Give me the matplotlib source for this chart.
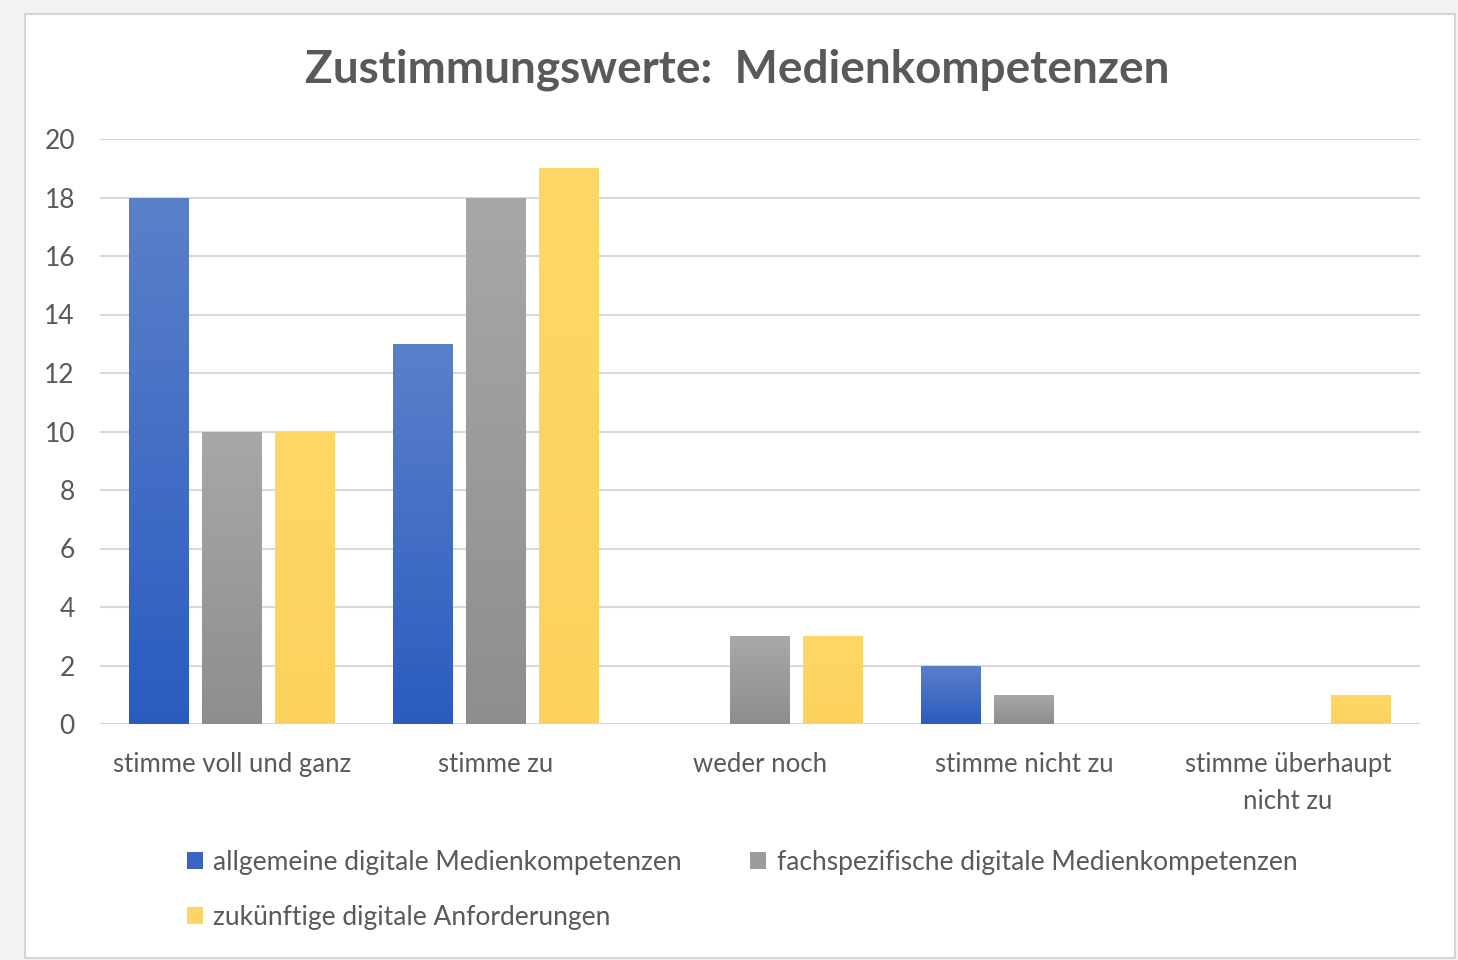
import matplotlib

matplotlib.use("Agg", force=True)
import matplotlib.pyplot as plt
import numpy as np
from matplotlib.patches import Rectangle

categories = ["stimme voll und ganz", "stimme zu", "weder noch", "stimme nicht zu", "stimme überhaupt\nnicht zu"]
series_names = [
    "allgemeine digitale Medienkompetenzen",
    "fachspezifische digitale Medienkompetenzen",
    "zukünftige digitale Anforderungen",
]
allgemeine = [18, 13, 0, 2, 0]
fachspezifisch = [10, 18, 3, 1, 0]
zukuenftig = [10, 19, 3, 0, 1]
y_ticks = [0, 2, 4, 6, 8, 10, 12, 14, 16, 18, 20]

# top colour, bottom colour, legend colour
STYLES = [
    ("#5b80ca", "#2a5cbf", "#3a64c2"),
    ("#a8a8a8", "#8e8e8e", "#9c9c9c"),
    ("#fed866", "#fbd25c", "#fdd562"),
]
TEXT = "#595959"

plt.rcParams["font.family"] = ["Lato", "DejaVu Sans"]

fig = plt.figure(figsize=(14.58, 9.6), dpi=100)
fig.patch.set_facecolor("#f2f2f2")
fig.patches.append(Rectangle((25 / 1458, 2 / 960), 1430 / 1458, 944 / 960, transform=fig.transFigure,
                             facecolor="white", edgecolor="#d4d4d4", lw=1.5, zorder=-1))

ax = fig.add_axes([100 / 1458, 1 - 724 / 960, 1320 / 1458, 585 / 960])
ax.set_facecolor("none")

x = np.arange(len(categories))
width = 0.227
step = 0.277
for i, (values, (top, bottom, _)) in enumerate(zip([allgemeine, fachspezifisch, zukuenftig], STYLES)):
    bars = ax.bar(x + (i - 1) * step, values, width, color=bottom, zorder=3, linewidth=0)
    grad = np.linspace(0, 1, 256).reshape(-1, 1)
    cmap = matplotlib.colors.LinearSegmentedColormap.from_list(f"g{i}", [bottom, top])
    for bar in bars:
        if bar.get_height() <= 0:
            continue
        bx, by = bar.get_x(), bar.get_y()
        im = ax.imshow(grad, cmap=cmap, aspect="auto", origin="lower", zorder=4,
                       extent=[bx, bx + bar.get_width(), by, by + bar.get_height()])
        im.set_clip_path(bar)

ax.set_xlim(-0.5, len(categories) - 0.5)
ax.set_ylim(0, 20)
ax.set_yticks(y_ticks)
ax.set_xticks(x)
ax.set_xticklabels(categories, linespacing=1.6)
ax.tick_params(axis="both", length=0, colors=TEXT)
ax.tick_params(axis="x", pad=20, labelsize=18.5)
ax.tick_params(axis="y", pad=18, labelsize=19)
ax.grid(axis="y", color="#d9d9d9", lw=1.5, zorder=0)
for spine in ax.spines.values():
    spine.set_visible(False)

fig.text(737 / 1458, 1 - 70 / 960, "Zustimmungswerte:  Medienkompetenzen", ha="center", va="center",
         fontsize=33, fontweight="bold", color=TEXT)

handles = [Rectangle((0, 0), 1, 1, facecolor=s[2], edgecolor="none") for s in STYLES]
order = [0, 2, 1]
fig.legend([handles[k] for k in order], [series_names[k] for k in order], ncol=2, frameon=False,
           loc="upper left", bbox_to_anchor=(163 / 1458, 1 - 826 / 960), fontsize=19, labelcolor=TEXT,
           handlelength=0.6, handleheight=0.6, handletextpad=0.4, columnspacing=2.6, labelspacing=1.15)

fig.savefig("out.png", dpi=100)
